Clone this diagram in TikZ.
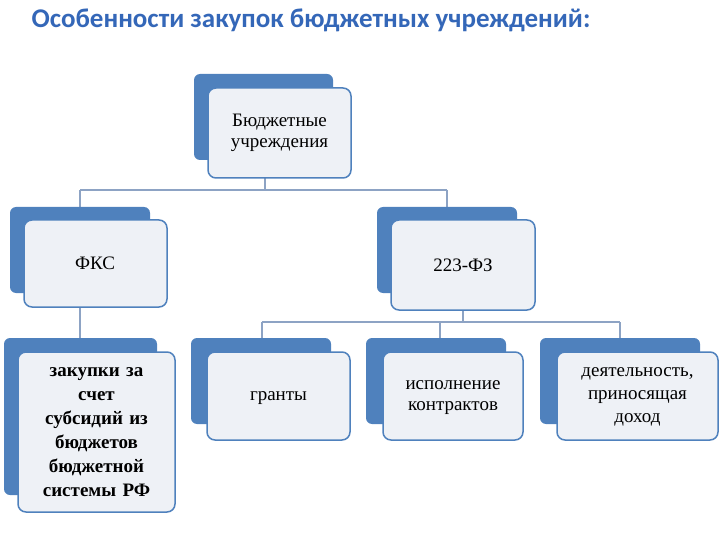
\documentclass[tikz,border=0pt]{standalone}
\usepackage{fontspec}
\setmainfont{Liberation Serif}
\newfontfamily\titlefont{Carlito}
\definecolor{bblue}{HTML}{4F81BD}
\definecolor{fillc}{HTML}{EEF1F6}
\definecolor{linec}{HTML}{8DA3C4}
\definecolor{tblue}{HTML}{3467B8}
\begin{document}
\begin{tikzpicture}[x=1pt,y=-1pt,
  backbox/.style={fill=bblue,rounded corners=6pt},
  frontbox/.style={fill=fillc,draw=bblue,line width=1.5pt,rounded corners=8pt},
  conn/.style={draw=linec,line width=1.5pt},
  lbl/.style={align=center,font=\fontsize{19}{21}\selectfont,text width=140pt}]
\useasboundingbox (0,0) rectangle (720,540);
\node[font=\titlefont\bfseries\fontsize{27}{30}\selectfont,text=tblue,anchor=west] (title) at (28,20) {Особенности закупок бюджетных учреждений:};
% connectors
\coordinate (j1) at (265,190);
\coordinate (j1l) at (80,190);
\coordinate (j1r) at (447,190);
\coordinate (j2) at (463,322);
\coordinate (j2l) at (262,322);
\coordinate (j2m) at (440,322);
\coordinate (j2r) at (620,322);
\draw[conn] (265,178) -- (j1) (j1l) -- (j1r) (j1l) -- (80,207) (j1r) -- (447,207);
\draw[conn] (80,307) -- (80,338);
\draw[conn] (j2) -- (463,310) (j2l) -- (j2r) (j2l) -- (262,338) (j2m) -- (440,338) (j2r) -- (620,338);
% boxes
\fill[backbox] (194,74) rectangle (333,160);
\draw[frontbox] (208,88) rectangle (351,178);
\node[lbl] (b0) at (279.5,133) {Бюджетные\\учреждения};
\fill[backbox] (10,207) rectangle (150,293);
\draw[frontbox] (24,220) rectangle (167,307);
\node[lbl] (b1) at (95,263) {ФКС};
\fill[backbox] (377,207) rectangle (517,293);
\draw[frontbox] (391,220) rectangle (535,310);
\node[lbl] (b2) at (463,265) {223-ФЗ};
\fill[backbox] (4,338) rectangle (157,495);
\draw[frontbox] (18,352) rectangle (175,512);
\node[lbl,font=\bfseries\fontsize{19}{24}\selectfont] (b3) at (96.5,432) {закупки за\\счет\\субсидий из\\бюджетов\\бюджетной\\системы РФ};
\fill[backbox] (191,338) rectangle (331,424);
\draw[frontbox] (207,352) rectangle (350,440);
\node[lbl] (b4) at (278.5,398) {гранты};
\fill[backbox] (366,338) rectangle (506,424);
\draw[frontbox] (383,352) rectangle (523,440);
\node[lbl] (b5) at (453,398) {исполнение\\контрактов};
\fill[backbox] (540,338) rectangle (700,424);
\draw[frontbox] (557,352) rectangle (718,440);
\node[lbl,font=\fontsize{19}{23}\selectfont] (b6) at (637.5,397) {деятельность,\\приносящая\\доход};
\end{tikzpicture}
\end{document}
